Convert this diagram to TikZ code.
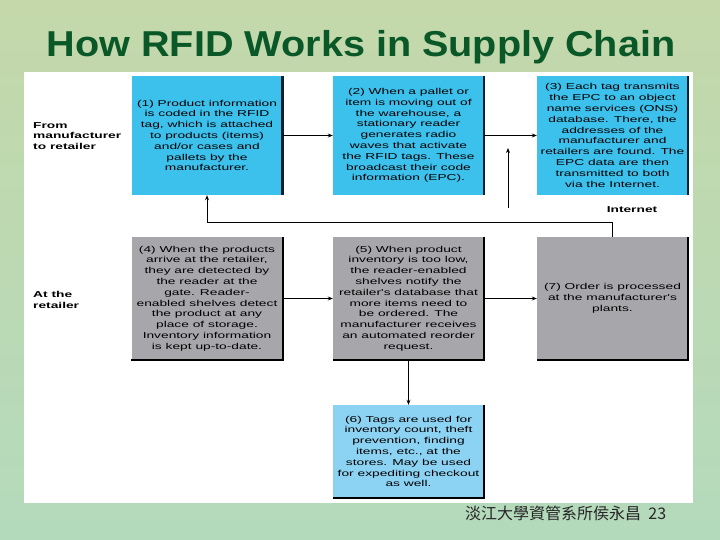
\documentclass[tikz,border=0pt]{standalone}
\usepackage{fontspec}
\setmainfont{Liberation Sans}
\newfontfamily\boxfont[FakeStretch=1.6]{Liberation Sans}
\newfontfamily\titlefont[FakeStretch=1.1]{Liberation Sans}
\newfontfamily\cjkfont{Noto Sans CJK TC}
\usepackage{xcolor}
\usetikzlibrary{arrows.meta,positioning}

\definecolor{titlegreen}{RGB}{10,88,40}
\definecolor{boxblue}{RGB}{60,192,236}
\definecolor{paleblue}{RGB}{140,210,242}
\definecolor{boxgray}{RGB}{167,167,171}
\definecolor{edgenavy}{RGB}{16,30,48}
\definecolor{bgtop}{RGB}{196,216,170}
\definecolor{bgbottom}{RGB}{180,218,188}

\tikzset{
  stepbox/.style={minimum width=151pt, minimum height=119pt, inner sep=0pt,
    align=center, font=\boxfont\fontsize{8.6}{10.8}\selectfont},
  bluebox/.style={stepbox, fill=boxblue},
  greybox/.style={stepbox, fill=boxgray, minimum height=123pt},
  rowlabel/.style={anchor=west, align=left, inner sep=0pt,
    font=\boxfont\bfseries\fontsize{8.6}{10.6}\selectfont},
  flow/.style={-{Stealth[length=5pt,width=4pt]}, line width=0.8pt},
  shadowedge/.style={line width=2.5pt, edgenavy},
}

\begin{document}
\begin{tikzpicture}[x=1pt,y=-1pt]
      % \draw[help lines, gray!50, very thin] (0,0) grid (720,540);
      \shade[top color=bgtop, bottom color=bgbottom] (0,0) rectangle (720,540);
      \useasboundingbox (0,0) rectangle (720,540);
      \fill[white] (24,72) rectangle (693,503);

      \node (title) at (361,47) {\titlefont\bfseries\fontsize{36}{36}\selectfont\color{titlegreen}How RFID Works in Supply Chain};

      % row labels
      \node[rowlabel] (fromlbl) at (33,136) {From\\manufacturer\\to retailer};
      \node[rowlabel] (atlbl) at (33,300) {At the\\retailer};

      % top row
      \node[bluebox] (b1) at (207,135.5) {(1) Product information\\is coded in the RFID\\tag, which is attached\\to products (items)\\and/or cases and\\pallets by the\\manufacturer.};
      \node[bluebox] (b2) at (408.5,135.5) {(2) When a pallet or\\item is moving out of\\the warehouse, a\\stationary reader\\generates radio\\waves that activate\\the RFID tags. These\\broadcast their code\\information (EPC).};
      \node[bluebox] (b3) at (612.5,135.5) {(3) Each tag transmits\\the EPC to an object\\name services (ONS)\\database. There, the\\addresses of the\\manufacturer and\\retailers are found. The\\EPC data are then\\transmitted to both\\via the Internet.};

      % bottom row
      \node[greybox] (b4) at (207,298.5) {(4) When the products\\arrive at the retailer,\\they are detected by\\the reader at the\\gate. Reader-\\enabled shelves detect\\the product at any\\place of storage.\\Inventory information\\is kept up-to-date.};
      \node[greybox] (b5) at (408.5,298.5) {(5) When product\\inventory is too low,\\the reader-enabled\\shelves notify the\\retailer's database that\\more items need to\\be ordered. The\\manufacturer receives\\an automated reorder\\request.};
      \node[greybox] (b7) at (612.5,298.5) {(7) Order is processed\\at the manufacturer's\\plants.};
      \node[stepbox, fill=paleblue, minimum height=93pt] (b6) at (408.5,451.5) {(6) Tags are used for\\inventory count, theft\\prevention, finding\\items, etc., at the\\stores. May be used\\for expediting checkout\\as well.};

      \foreach \b in {b1,b2,b3}
        \draw[shadowedge] (\b.north east) -- (\b.south east);
      \foreach \b in {b4,b5,b7,b6}
        \draw[shadowedge, black, line width=2pt] (\b.north east) -- (\b.south east) -- (\b.south west);

      \node[font=\boxfont\bfseries\fontsize{8.6}{10}\selectfont] (netlbl) at (632,210) {Internet};

      \draw[flow] (b1.east) -- (b2.west);
      \draw[flow] (b2.east) -- (b3.west);
      \draw[flow] (b4.east) -- (b5.west);
      \draw[flow] (b5.east) -- (b7.west);
      \draw[flow] (b5.south) -- (b6.north);

      \coordinate (netline) at (0,222);
      \draw[flow] (b7.north) |- (b1.south |- netline) -- (b1.south);
      \coordinate (tapfoot) at (508,208);
      \coordinate (taptip) at (508,148);
      \draw[flow] (tapfoot) -- (taptip);

      \node[anchor=west, inner sep=0pt, text=black!85] (footer) at (465,513) {\cjkfont\fontsize{16}{16}\selectfont 淡江大學資管系所侯永昌\ \ 23};
    \end{tikzpicture}
\end{document}
